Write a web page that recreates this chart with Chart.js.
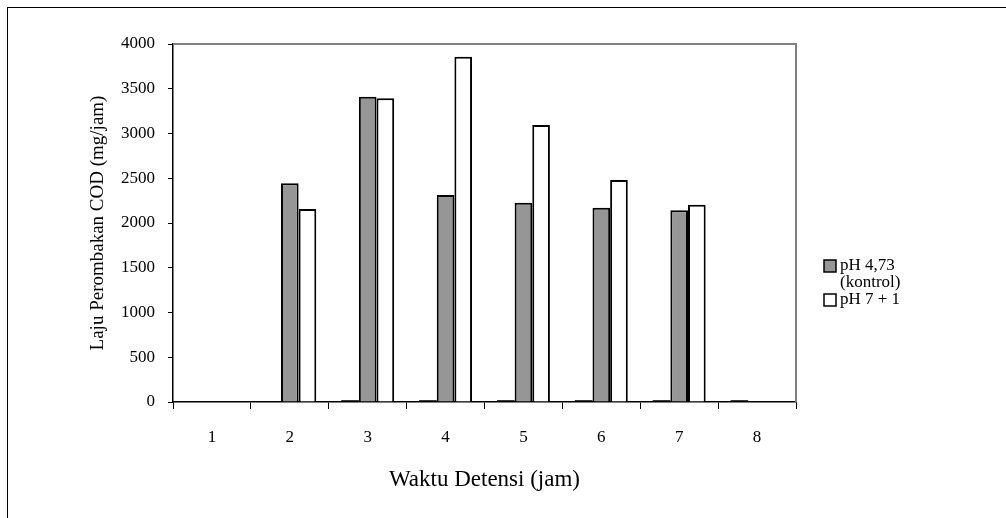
<!DOCTYPE html>
<html lang="id">
<head>
<meta charset="UTF-8">
<title>Laju Perombakan COD</title>
<script src="https://cdn.jsdelivr.net/npm/chart.js@4.4.1/dist/chart.umd.min.js"></script>
<style>
  html, body { margin: 0; padding: 0; background: #fff; }
  .wrap { position: relative; width: 1006px; height: 518px; overflow: hidden; }
  .frame { position: absolute; left: 7px; top: 7px; width: 1100px; height: 600px;
           border-left: 1px solid #000; border-top: 1px solid #000; }
  canvas { position: absolute; left: 0; top: 0; }
</style>
</head>
<body>
<div class="wrap">
  <div class="frame"></div>
  <canvas id="chart" width="1006" height="518"></canvas>
</div>

<script>
// data
const waktu = ['1', '2', '3', '4', '5', '6', '7', '8'];
const kecil = [null, null, 20, 20, 20, 20, 20, 20];          // near-zero series, not in legend
const kontrol = [null, 2443, 3411, 2313, 2227, 2171, 2142, null];
const ph7 = [null, 2156, 3393, 3858, 3095, 2480, 2205, null];
const yTicks = [0, 500, 1000, 1500, 2000, 2500, 3000, 3500, 4000];

const legendItems = [
  { lines: ['pH 4,73', '(kontrol)'], fill: '#969696' },
  { lines: ['pH 7 + 1'], fill: '#ffffff' }
];

const FONT = 'Liberation Serif, "Times New Roman", serif';

// gray box on top/right + legend
const extras = {
  id: 'extras',
  afterDraw(chart) {
    const { ctx, chartArea: a } = chart;
    ctx.save();
    ctx.strokeStyle = '#808080';
    ctx.lineWidth = 2;
    ctx.beginPath();
    ctx.moveTo(a.left, a.top);
    ctx.lineTo(a.right, a.top);
    ctx.lineTo(a.right, a.bottom);
    ctx.stroke();

    // legend
    ctx.font = '17px ' + FONT;
    ctx.textBaseline = 'middle';
    let y = 266;
    legendItems.forEach(it => {
      ctx.fillStyle = it.fill;
      ctx.fillRect(824, y - 6, 12, 12);
      ctx.strokeStyle = '#000';
      ctx.lineWidth = 1.5;
      ctx.strokeRect(824, y - 6, 12, 12);
      ctx.fillStyle = '#000';
      it.lines.forEach((t, i) => {
        ctx.fillText(t, 840, y + i * 17);
      });
      y += it.lines.length * 17;
    });
    ctx.restore();
  }
};

new Chart(document.getElementById('chart'), {
  type: 'bar',
  data: {
    labels: waktu,
    datasets: [
      { label: '', data: kecil, backgroundColor: '#000', borderWidth: 0 },
      { label: 'pH 4,73 (kontrol)', data: kontrol, backgroundColor: '#969696', borderColor: '#000', borderWidth: 2 },
      { label: 'pH 7 + 1', data: ph7, backgroundColor: '#ffffff', borderColor: '#000', borderWidth: 2 }
    ]
  },
  options: {
    responsive: false,
    animation: false,
    events: [],
    layout: { padding: { left: 87, top: 44, right: 210, bottom: 24 } },
    datasets: { bar: { categoryPercentage: 0.68, barPercentage: 1.0 } },
    plugins: { legend: { display: false }, tooltip: { enabled: false } },
    scales: {
      x: {
        grid: { drawOnChartArea: false, color: '#000', tickLength: 7, offset: true },
        border: { color: '#000', width: 1.5 },
        ticks: { color: '#000', font: { family: FONT, size: 17 }, padding: 18 },
        title: { display: true, text: 'Waktu Detensi (jam)', color: '#000',
                 font: { family: FONT, size: 23 }, padding: { top: 8, bottom: 0 } },
        afterFit(s) { s.height = 518 - 402 - 24; }
      },
      y: {
        min: 0, max: 4000,
        afterBuildTicks(s) { s.ticks = yTicks.map(v => ({ value: v })); },
        grid: { drawOnChartArea: false, color: '#000', tickLength: 5 },
        border: { color: '#000', width: 1.5 },
        ticks: { color: '#000', font: { family: FONT, size: 17 }, padding: 13,
                 callback: v => String(v) },
        title: { display: true, text: 'Laju Perombakan COD (mg/jam)', color: '#000',
                 font: { family: FONT, size: 19 }, padding: 0 },
        afterFit(s) { s.width = 173 - 87; }
      }
    }
  },
  plugins: [extras]
});
</script>
</body>
</html>
